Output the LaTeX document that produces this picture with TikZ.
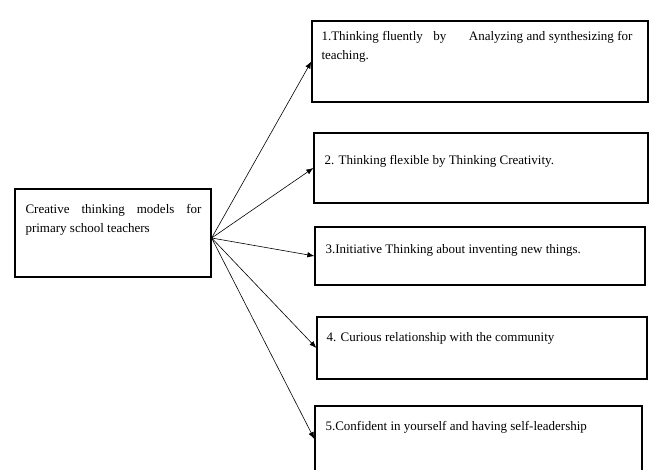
\documentclass[tikz,border=0pt]{standalone}
\usepackage{fontspec}
\setmainfont{Liberation Serif}
\usetikzlibrary{positioning, arrows.meta}

\begin{document}
\begin{tikzpicture}[x=1pt, y=-1pt, >={Latex[length=7pt, width=5.5pt]},
    box/.style={draw, line width=1.3pt, inner sep=0pt},
    txt/.style={anchor=base west, inner sep=0pt, align=left,
        font=\fontsize{13}{19}\selectfont},
    link/.style={->, line width=0.6pt}]
    \useasboundingbox (0,0) rectangle (654,470);

    % boxes
    \node[box, minimum width=196, minimum height=88] (root) at (113,233) {};
    \node[box, minimum width=336, minimum height=81] (t1) at (480,61.5) {};
    \node[box, minimum width=334, minimum height=70] (t2) at (481,168) {};
    \node[box, minimum width=330, minimum height=58] (t3) at (480,256) {};
    \node[box, minimum width=330, minimum height=62] (t4) at (482,348) {};
    \node[box, minimum width=327, minimum height=66] (t5) at (478.5,439) {};

    % texts
    \node[txt, text width=176pt, align=justify] (rootText)
        at ([xshift=11, yshift=-25]root.north west)
        {Creative thinking models for\linebreak primary school teachers};
    \node[txt, text width=311pt, align=justify] (t1Text)
        at ([xshift=10, yshift=-20]t1.north west)
        {1.Thinking fluently\hspace{7pt} by\hspace{19pt} Analyzing and synthesizing for\linebreak teaching.};
    \node[txt] (t2Text) at ([xshift=11, yshift=-32]t2.north west)
        {2. Thinking flexible by Thinking Creativity.};
    \node[txt] (t3Text) at ([xshift=11, yshift=-27]t3.north west)
        {3.Initiative Thinking about inventing new things.};
    \node[txt] (t4Text) at ([xshift=10, yshift=-25]t4.north west)
        {4. Curious relationship with the community};
    \node[txt] (t5Text) at ([xshift=11, yshift=-25]t5.north west)
        {5.Confident in yourself and having self-leadership};

    % arrows
    \coordinate (hub) at ([yshift=-5]root.east);
    \foreach \i in {1,...,5}
        \draw[link] (hub) -- (t\i.west);
\end{tikzpicture}
\end{document}
